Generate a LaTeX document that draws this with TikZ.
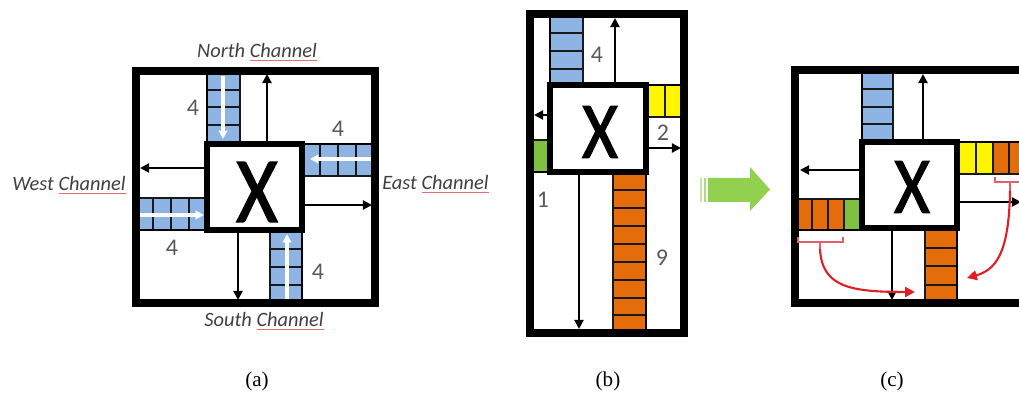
\documentclass[tikz,border=0pt]{standalone}
\usepackage{fontspec}
\usepackage{xcolor}
\usepackage{graphicx}
\usetikzlibrary{arrows.meta}
\setmainfont{Liberation Serif}
\newfontfamily\calib{Carlito}
\newfontfamily\xfont[FakeBold=1.6]{Carlito}
\definecolor{qblue}{RGB}{141,180,226}
\definecolor{qorange}{RGB}{228,108,10}
\definecolor{qyellow}{RGB}{255,245,0}
\definecolor{qgreen}{RGB}{128,192,64}
\definecolor{arrowgreen}{RGB}{146,208,80}
\definecolor{movered}{RGB}{225,30,35}
\definecolor{brackred}{RGB}{225,95,105}
\definecolor{spellred}{RGB}{225,110,110}
\definecolor{labelgray}{RGB}{64,64,64}
\definecolor{numgray}{RGB}{89,89,89}
\newcommand\spellmark[1]{\textcolor{spellred}{\underline{\textcolor{labelgray}{#1}}}}
\newcommand\routerx{\scalebox{0.86}[1]{X}}

\begin{document}
\begin{tikzpicture}[x=0.025cm, y=-0.025cm,
        outerwall/.style={line width=5pt},
        xwall/.style={line width=3.6pt},
        wall/.style={line width=2pt},
        qcell/.style={line width=1.6pt, draw=black!90},
        outarrow/.style={line width=1.5pt, -{Triangle[length=6.5pt,width=6.5pt]}},
        inarrow/.style={white, line width=2.2pt, -{Triangle[length=6pt,width=6pt]}},
        redirect/.style={movered, line width=1.5pt, -{Triangle[length=7pt,width=7pt]}},
        bracket/.style={brackred, line width=1pt},
        chan/.style={font=\calib\itshape\fontsize{14.5}{16}\selectfont, text=labelgray, inner sep=0pt},
        qnum/.style={font=\calib\fontsize{17}{19}\selectfont, text=numgray, inner sep=0pt},
        bigx/.style={font=\xfont\fontsize{66}{70}\selectfont, inner sep=0pt},
        sublabel/.style={font=\fontsize{15}{18}\selectfont, inner sep=0pt}]
        \clip (0,0) rectangle (1019,398);
        % (a) queues
        \filldraw[qcell, fill=qblue] (207,73) rectangle (240,142);
        \draw[qcell] (207,90) -- (240,90) (207,107) -- (240,107) (207,125) -- (240,125);
        \filldraw[qcell, fill=qblue] (302,144) rectangle (373,176);
        \draw[qcell] (320,144) -- (320,176) (338,144) -- (338,176) (356,144) -- (356,176);
        \filldraw[qcell, fill=qblue] (138,198) rectangle (207,230);
        \draw[qcell] (153,198) -- (153,230) (171,198) -- (171,230) (189,198) -- (189,230);
        \filldraw[qcell, fill=qblue] (270,230) rectangle (302,301);
        \draw[qcell] (270,249) -- (302,249) (270,267) -- (302,267) (270,285) -- (302,285);
        % (a) flits coming in
        \draw[inarrow] (223,76) -- (223,139);
        \draw[inarrow] (371,159) -- (310,159);
        \draw[inarrow] (140,215) -- (204,215);
        \draw[inarrow] (287,300) -- (287,234);
        % (a) flits going out
        \draw[outarrow] (267,144) -- (267,74);
        \draw[outarrow] (207,168) -- (140,168);
        \draw[outarrow] (302,205) -- (372,205);
        \draw[outarrow] (238,230) -- (238,300);
        % (a) walls and router
        \draw[wall] (207,71) -- (207,144) (302,144) -- (375,144)
          (302,230) -- (302,303) (136,230) -- (207,230);
        \draw[xwall] (207,144) rectangle (302,230);
        \draw[outerwall] (136,71) rectangle (375,303);
        \node[bigx] (xa) at (257,192) {\routerx};
        % (a) labels
        \node[chan, anchor=base] (northa) at (257,58) {North \spellmark{Channel}};
        \node[chan, anchor=base] (southa) at (264,327) {South \spellmark{Channel}};
        \node[chan, anchor=base] (westa) at (69,191) {West \spellmark{Channel}};
        \node[chan, anchor=base west] (easta) at (382,190) {East \spellmark{Channel}};
        \node[qnum] (na) at (193,108) {4};
        \node[qnum] (ea) at (338,129) {4};
        \node[qnum] (wa) at (172,248) {4};
        \node[qnum] (sa) at (318,272) {4};

        % (b) queues
        \filldraw[qcell, fill=qblue] (550,14) rectangle (583,85);
        \draw[qcell] (550,33) -- (583,33) (550,51) -- (583,51) (550,69) -- (583,69);
        \filldraw[qcell, fill=qyellow] (646,85) rectangle (684,117);
        \draw[qcell] (665,85) -- (665,117);
        \filldraw[qcell, fill=qgreen] (530,140) rectangle (550,172);
        \filldraw[qcell, fill=qorange] (613,172) rectangle (646,333);
        \draw[qcell] (613,190) -- (646,190) (613,208) -- (646,208) (613,226) -- (646,226)
          (613,244) -- (646,244) (613,262) -- (646,262) (613,280) -- (646,280)
          (613,298) -- (646,298) (613,315) -- (646,315);
        % (b) flits going out
        \draw[outarrow] (615,85) -- (615,18);
        \draw[outarrow] (550,115) -- (534,115);
        \draw[outarrow] (646,148) -- (681,148);
        \draw[outarrow] (579,172) -- (579,329);
        % (b) walls and router
        \draw[wall] (550,14) -- (550,85) (646,85) -- (684,85)
          (646,172) -- (646,333) (530,172) -- (550,172);
        \draw[xwall] (550,85) rectangle (646,172);
        \draw[outerwall] (530,14) rectangle (684,333);
        \node[bigx, font=\xfont\fontsize{57}{60}\selectfont] (xb) at (600,132) {\routerx};
        % (b) labels
        \node[qnum] (nb) at (597,55) {4};
        \node[qnum] (eb) at (663,133) {2};
        \node[qnum] (wb) at (543,200) {1};
        \node[qnum] (sb) at (662,258) {9};

        % Shift arrow
        \fill[arrowgreen!55] (700,178) rectangle (702,202);
        \fill[arrowgreen!75] (704,178) rectangle (706,202);
        \fill[arrowgreen] (708,178) -- (750,178) -- (750,167) -- (770,189.5)
          -- (750,211) -- (750,202) -- (708,202) -- cycle;

        % (c) queues
        \filldraw[qcell, fill=qblue] (862,71) rectangle (893,142);
        \draw[qcell] (862,89) -- (893,89) (862,107) -- (893,107) (862,124) -- (893,124);
        \filldraw[qcell, fill=qyellow] (957,142) rectangle (976,174);
        \filldraw[qcell, fill=qyellow] (976,142) rectangle (993,174);
        \filldraw[qcell, fill=qorange] (993,142) rectangle (1009,174);
        \filldraw[qcell, fill=qorange] (1009,142) rectangle (1025,174);
        \filldraw[qcell, fill=qorange] (795,199) rectangle (812,230);
        \filldraw[qcell, fill=qorange] (812,199) rectangle (828,230);
        \filldraw[qcell, fill=qorange] (828,199) rectangle (844,230);
        \filldraw[qcell, fill=qgreen] (844,199) rectangle (862,230);
        \filldraw[qcell, fill=qorange] (925,228) rectangle (957,303);
        \draw[qcell] (925,248) -- (957,248) (925,266) -- (957,266) (925,285) -- (957,285);
        % (c) flits going out
        \draw[outarrow] (923,142) -- (923,74);
        \draw[outarrow] (862,170) -- (800,170);
        \draw[outarrow] (957,202) -- (1021,202);
        \draw[outarrow] (892,228) -- (892,300);
        % (c) walls and router
        \draw[wall] (862,71) -- (862,142) (957,142) -- (1040,142)
          (957,228) -- (957,303) (795,230) -- (862,230);
        \draw[xwall] (862,142) rectangle (957,228);
        \draw[outerwall] (795,70) rectangle (1040,303);
        \node[bigx, font=\xfont\fontsize{57}{60}\selectfont] (xc) at (912,187) {\routerx};
        % (c) moved flits
        \coordinate (wtick) at (820,249);
        \coordinate (etick) at (1010,191);
        \coordinate (wdrop) at (915,292);
        \coordinate (edrop) at (967,278);
        \draw[bracket] (798,237) -- (798,242) -- (843,242) -- (843,237) (820,242) -- (wtick);
        \draw[bracket] (995,177) -- (995,182) -- (1030,182) (1010,182) -- (etick);
        \draw[redirect] (wtick) .. controls (822,287) and (850,292) .. (wdrop);
        \draw[redirect] (etick) .. controls (1009,255) and (995,270) .. (edrop);

        % Captions
        \node[sublabel] (capa) at (257,381) {(a)};
        \node[sublabel] (capb) at (608,381) {(b)};
        \node[sublabel] (capc) at (892,381) {(c)};
\end{tikzpicture}
\end{document}
